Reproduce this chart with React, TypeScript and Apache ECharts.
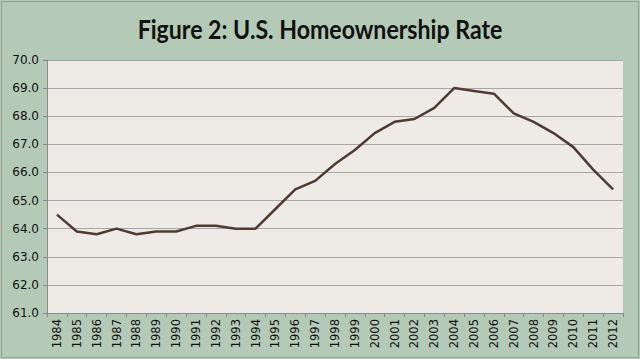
import React, { useEffect, useRef } from "react";
import * as echarts from "echarts";

const years = ["1984","1985","1986","1987","1988","1989","1990","1991","1992","1993","1994","1995","1996","1997","1998","1999","2000","2001","2002","2003","2004","2005","2006","2007","2008","2009","2010","2011","2012"];
const rates = [64.5,63.9,63.8,64.0,63.8,63.9,63.9,64.1,64.1,64.0,64.0,64.7,65.4,65.7,66.3,66.8,67.4,67.8,67.9,68.3,69.0,68.9,68.8,68.1,67.8,67.4,66.9,66.1,65.4];
const title = "Figure 2: U.S. Homeownership Rate";

export default function App() {
  const ref = useRef<HTMLDivElement>(null);
  useEffect(() => {
    const chart = echarts.init(ref.current!, null, { renderer: "svg" });
    chart.setOption({
      animation: false,
      backgroundColor: "#b4cab6",
      graphic: [
        {
          type: "rect",
          shape: { x: 1.5, y: 1.5, width: 637, height: 356 },
          style: { fill: "none", stroke: "#95a497", lineWidth: 1.2 },
          silent: true,
        },
        {
          type: "text",
          x: 320,
          y: 29,
          scaleX: 0.89,
          style: {
            text: title,
            x: 0, y: 0,
            textAlign: "center",
            textVerticalAlign: "middle",
            fontFamily: "Lato",
            fontWeight: "bold",
            fontSize: 26,
            fill: "#111",
          },
        },
      ],
      grid: {
        left: 47, right: 17, top: 60, bottom: 46,
        show: true, backgroundColor: "#eeebe7", borderWidth: 0,
      },
      xAxis: {
        type: "category",
        data: years,
        boundaryGap: true,
        axisLine: { lineStyle: { color: "#8a8a8a" } },
        axisTick: { show: true, alignWithLabel: false, length: 4, lineStyle: { color: "#8a8a8a" } },
        axisLabel: { rotate: 90, interval: 0, fontFamily: "DejaVu Sans", fontSize: 11.5, color: "#111", margin: 6 },
      },
      yAxis: {
        type: "value",
        min: 61, max: 70, interval: 1,
        axisLine: { show: true, lineStyle: { color: "#8a8a8a" } },
        axisTick: { show: true, length: 4, lineStyle: { color: "#8a8a8a" } },
        splitLine: { lineStyle: { color: "#a6a6a6", width: 1 } },
        axisLabel: { formatter: (v: number) => v.toFixed(1), fontFamily: "DejaVu Sans", fontSize: 12, color: "#111", margin: 8 },
      },
      series: [{
        type: "line",
        data: rates,
        symbol: "none",
        lineStyle: { color: "#4f3b31", width: 2.5 },
      }],
    });
    return () => chart.dispose();
  }, []);
  return <div ref={ref} style={{ width: 640, height: 359, position: "absolute", left: 0, top: 0 }} />;
}
